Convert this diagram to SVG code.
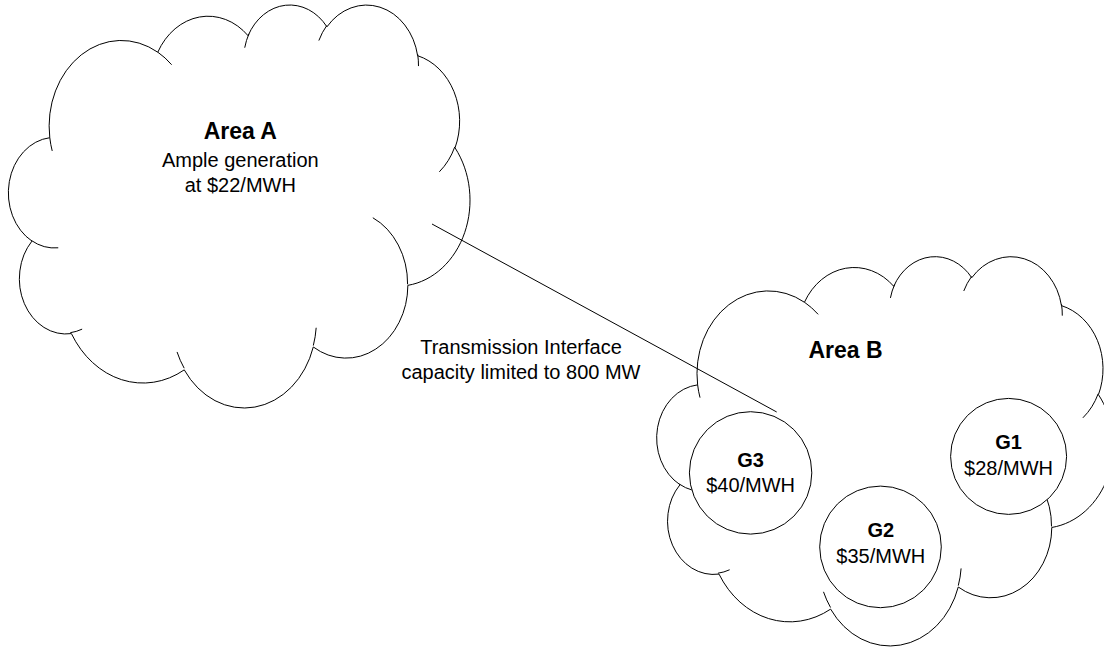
<svg xmlns="http://www.w3.org/2000/svg" xmlns:xlink="http://www.w3.org/1999/xlink" width="1104" height="647" viewBox="0 0 1104 647">
  <style>
    .outer { fill: #ffffff; stroke: #000000; stroke-width: 1; vector-effect: non-scaling-stroke; }
    .inner { fill: none; stroke: #000000; stroke-width: 1; vector-effect: non-scaling-stroke; }
    .gen { fill: #ffffff; stroke: #000000; stroke-width: 1; }
    .conn { fill: none; stroke: #000000; stroke-width: 1; }
    text { font-family: "Liberation Sans", Arial, Helvetica, sans-serif; fill: #000000; text-anchor: middle; }
    .t { font-size: 20px; }
    .tb { font-size: 20px; font-weight: bold; }
    .title { font-size: 23px; font-weight: bold; }
  </style>
  <defs>
    <g id="cloud">
      <path class="outer" vector-effect="non-scaling-stroke" d="M 3900 14370 A 6753 9190 0 0 1 14004.8 5202.0 A 5333 7267 0 0 1 22457.7 3432.1 A 4365 5945 0 0 1 29834.9 2480.3 A 4857 6595 0 0 1 38320.1 5575.4 A 5333 7273 0 0 1 41820.4 15459.2 A 6775 9220 0 0 1 37406.4 30202.1 A 5785 7867 0 0 1 28557.7 36812.1 A 6752 9215 0 0 1 16483.5 39266.6 A 7720 10543 0 0 1 5923.6 35377.9 A 4360 5918 0 0 1 2232.2 25456.3 A 4345 5945 0 0 1 3900 14370 Z"/>
      <path class="inner" vector-effect="non-scaling-stroke" d="M 4693 26177 A 4345 5945 0 0 1 2159.3 25379.6 M 6928 34899 A 4360 5918 0 0 1 5819.3 35280.6 M 16478 39090 A 6752 9215 0 0 1 15808.7 37346.5 M 28827 34751 A 6752 9215 0 0 1 28560.6 36659.8 M 34129 22954 A 5785 7867 0 0 1 37380.5 30089.6 M 41798 15354 A 5333 7273 0 0 1 40349.8 18030.2 M 38324 5426 A 4857 6595 0 0 1 38400.4 6689.0 M 29078 3952 A 4857 6595 0 0 1 29819.6 2340.4 M 22141 4720 A 4365 5945 0 0 1 22539.5 3225.4 M 14000 5192 A 6753 9190 0 0 1 15302.2 6543.2 M 4127 15789 A 6753 9190 0 0 1 3900.2 14370.7"/>
    </g>
  </defs>

  <g id="area-a">
    <use xlink:href="#cloud" href="#cloud" transform="translate(8.1,3.7) scale(0.010687,0.009325)"/>
    <text class="title" x="240.3" y="139.3">Area A</text>
    <text class="t" x="240.3" y="166.7">Ample generation</text>
    <text class="t" x="240.3" y="191.7">at $22/MWH</text>
  </g>

  <g id="area-b">
    <use xlink:href="#cloud" href="#cloud" transform="translate(656.4,255.4) scale(0.01057,0.009008)"/>
    <text class="title" x="845.5" y="357.7">Area B</text>
  </g>

  <g id="g3">
    <circle class="gen" cx="750.6" cy="472.9" r="61.2"/>
    <text class="tb" x="750.6" y="466.7">G3</text>
    <text class="t" x="750.6" y="491.7">$40/MWH</text>
  </g>

  <g id="g2">
    <circle class="gen" cx="880.5" cy="546.9" r="60.8"/>
    <text class="tb" x="880.8" y="537.3">G2</text>
    <text class="t" x="880.8" y="563.3">$35/MWH</text>
  </g>

  <g id="g1">
    <circle class="gen" cx="1008.6" cy="456.4" r="58"/>
    <text class="tb" x="1008.5" y="449">G1</text>
    <text class="t" x="1008.5" y="474.5">$28/MWH</text>
  </g>

  <g id="connectors">
    <line class="conn" x1="432" y1="224" x2="776.7" y2="412"/>
    <text class="t" x="521" y="354">Transmission Interface</text>
    <text class="t" x="521" y="378.5">capacity limited to 800 MW</text>
  </g>
</svg>
